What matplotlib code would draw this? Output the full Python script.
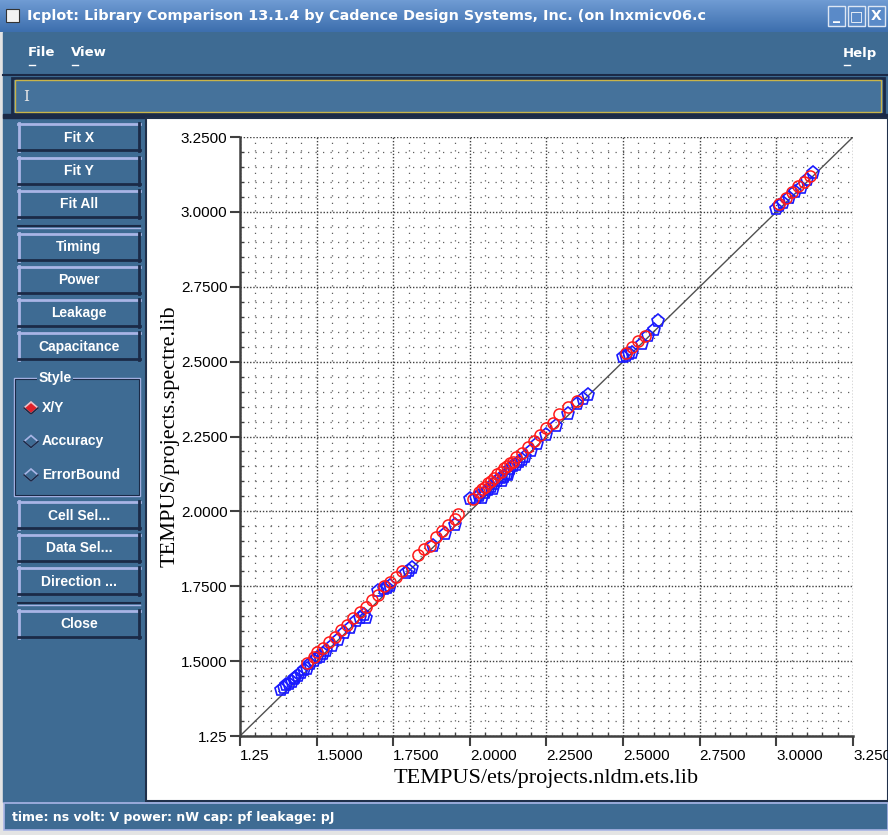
import numpy as np
import matplotlib
matplotlib.use('Agg')
import matplotlib.pyplot as plt
from matplotlib.patches import Rectangle, Polygon

# data (x = ets lib, y = spectre lib)
blue_x = [1.385, 1.395, 1.40, 1.41, 1.42, 1.425, 1.43, 1.44, 1.45, 1.46, 1.47, 1.48,
          1.49, 1.50, 1.51, 1.52, 1.53, 1.55, 1.57, 1.59, 1.61, 1.63, 1.64, 1.655,
          1.66, 1.70, 1.72, 1.73, 1.74, 1.79, 1.80, 1.81, 1.88, 1.92, 1.95, 2.00,
          2.02, 2.03, 2.04, 2.05, 2.06, 2.07, 2.075, 2.08, 2.09, 2.10, 2.105, 2.11,
          2.12, 2.125, 2.13, 2.14, 2.15, 2.16, 2.17, 2.18, 2.20, 2.22, 2.25, 2.28,
          2.32, 2.35, 2.37, 2.385, 2.50, 2.51, 2.52, 2.53, 2.56, 2.58, 2.60, 2.615,
          3.00, 3.01, 3.02, 3.04, 3.06, 3.08, 3.10, 3.12]
blue_y = [1.405, 1.41, 1.42, 1.425, 1.43, 1.44, 1.445, 1.45, 1.46, 1.47, 1.475, 1.49,
          1.50, 1.51, 1.515, 1.525, 1.535, 1.55, 1.57, 1.595, 1.61, 1.635, 1.645, 1.655,
          1.645, 1.735, 1.74, 1.745, 1.75, 1.795, 1.80, 1.81, 1.885, 1.925, 1.955, 2.04,
          2.045, 2.05, 2.045, 2.06, 2.07, 2.08, 2.075, 2.09, 2.10, 2.11, 2.10, 2.115,
          2.125, 2.12, 2.14, 2.15, 2.155, 2.165, 2.17, 2.18, 2.20, 2.225, 2.255, 2.285,
          2.325, 2.36, 2.375, 2.39, 2.515, 2.52, 2.525, 2.53, 2.56, 2.585, 2.605, 2.635,
          3.01, 3.02, 3.03, 3.045, 3.065, 3.08, 3.105, 3.13]

red_x = [1.47, 1.49, 1.50, 1.52, 1.54, 1.56, 1.58, 1.60, 1.62, 1.64, 1.66, 1.68,
         1.70, 1.72, 1.74, 1.76, 1.78, 1.83, 1.85, 1.87, 1.89, 1.91, 1.93, 1.95,
         1.96, 2.01, 2.03, 2.04, 2.05, 2.06, 2.07, 2.08, 2.09, 2.10, 2.11, 2.12,
         2.13, 2.14, 2.15, 2.17, 2.19, 2.21, 2.23, 2.25, 2.27, 2.29, 2.32, 2.35,
         2.51, 2.53, 2.55, 2.57, 3.01, 3.03, 3.05, 3.07, 3.09, 3.11]
red_y = [1.495, 1.515, 1.53, 1.545, 1.565, 1.58, 1.605, 1.62, 1.645, 1.665, 1.68, 1.705,
         1.72, 1.75, 1.765, 1.78, 1.80, 1.855, 1.875, 1.885, 1.915, 1.935, 1.955, 1.975,
         1.99, 2.04, 2.065, 2.075, 2.08, 2.095, 2.10, 2.11, 2.125, 2.13, 2.145, 2.15,
         2.16, 2.165, 2.18, 2.195, 2.215, 2.235, 2.255, 2.28, 2.295, 2.325, 2.35, 2.37,
         2.53, 2.55, 2.57, 2.585, 3.025, 3.045, 3.065, 3.085, 3.10, 3.12]

major_ticks = [1.25, 1.5, 1.75, 2.0, 2.25, 2.5, 2.75, 3.0, 3.25]
tick_labels = ['1.25', '1.5000', '1.7500', '2.0000', '2.2500', '2.5000',
               '2.7500', '3.0000', '3.2500']

buttons_top = ['Fit X', 'Fit Y', 'Fit All']
buttons_mid = ['Timing', 'Power', 'Leakage', 'Capacitance']
style_opts = ['X/Y', 'Accuracy', 'ErrorBound']
buttons_low = ['Cell Sel...', 'Data Sel...', 'Direction ...']

W, H = 888, 835
PANEL = '#3e6b93'
LIGHT = '#a9b5e6'
DARK = '#1b2a47'

fig = plt.figure(figsize=(W / 100, H / 100), dpi=100)

# background axes in pixel coordinates for the window chrome
bg = fig.add_axes([0, 0, 1, 1])
bg.set_xlim(0, W)
bg.set_ylim(H, 0)
bg.axis('off')

bg.add_patch(Rectangle((0, 0), W, H, color='#e4e4e4'))
bg.add_patch(Rectangle((3, 32), W - 3, 770, color=PANEL))

# title bar gradient
grad = np.linspace(0, 1, 32).reshape(-1, 1)
bg.imshow(grad, extent=(0, W, 32, 0), cmap=matplotlib.colors.LinearSegmentedColormap.from_list(
    'tb', ['#6f9bd3', '#3d6fae']), aspect='auto', zorder=1)
bg.add_patch(Rectangle((6, 9), 13, 13, facecolor='#f2f2f2', edgecolor='#333', lw=0.8, zorder=2))
bg.text(27, 16, 'Icplot: Library Comparison 13.1.4 by Cadence Design Systems, Inc. (on lnxmicv06.c',
        color='white', fontsize=10.4, fontweight='bold', va='center', ha='left',
        family='DejaVu Sans', zorder=3)
for i, sym in enumerate(['_', '□', 'X']):
    x0 = 828 + i * 20
    bg.add_patch(Rectangle((x0, 6), 17, 20, facecolor='#5a8ac8', edgecolor='#dde6f3', lw=1, zorder=2))
    bg.text(x0 + 8.5, 16, sym, color='white', fontsize=10, fontweight='bold',
            ha='center', va='center', zorder=3)

# menu bar
bg.plot([3, W], [75, 75], color=DARK, lw=1.5)
for x0, name in [(28, 'File'), (71, 'View'), (843, 'Help')]:
    bg.text(x0, 53, name, color='white', fontsize=9.5, fontweight='bold', va='center', ha='left')
    bg.plot([x0 + 1, x0 + 7], [65, 65], color='white', lw=1)

# entry field
bg.add_patch(Rectangle((12, 78), 872, 36, facecolor='#45729b', edgecolor=DARK, lw=2))
bg.add_patch(Rectangle((15, 80), 866, 32, facecolor='none', edgecolor='#c9b449', lw=1))
bg.text(26, 97, 'I', color='#e8e8e8', fontsize=11, va='center', ha='center', family='DejaVu Serif')
bg.add_patch(Rectangle((3, 114), W, 4, color=DARK))

# plot panel
bg.add_patch(Rectangle((146, 118), W - 146, 683, facecolor='white', edgecolor='#20304a', lw=1.5))


def button(y0, label, x0=18, x1=140, h=28):
    bg.add_patch(Rectangle((x0, y0), x1 - x0, h, facecolor=PANEL, edgecolor='none'))
    bg.plot([x0, x1], [y0 + 1, y0 + 1], color=LIGHT, lw=2)
    bg.plot([x0 + 1, x0 + 1], [y0, y0 + h], color=LIGHT, lw=2)
    bg.plot([x0, x1], [y0 + h - 1, y0 + h - 1], color=DARK, lw=2)
    bg.plot([x1 - 1, x1 - 1], [y0, y0 + h], color=DARK, lw=2)
    bg.text((x0 + x1) / 2, y0 + h / 2 + 0.5, label, color='white', fontsize=10,
            fontweight='bold', ha='center', va='center', family='Liberation Sans')


for i, lab in enumerate(buttons_top):
    button(123 + i * 33.5, lab)
bg.plot([18, 140], [226, 226], color=DARK, lw=1.5)
bg.plot([18, 140], [228, 228], color=LIGHT, lw=1)
for i, lab in enumerate(buttons_mid):
    button(233 + i * 33, lab)

# style group
bg.add_patch(Rectangle((14, 378), 126, 118, facecolor='none', edgecolor=LIGHT, lw=1))
bg.add_patch(Rectangle((15, 379), 124, 116, facecolor='none', edgecolor=DARK, lw=0.8))
bg.text(55, 378, 'Style', color='white', fontsize=10, fontweight='bold', ha='center',
        va='center', family='Liberation Sans',
        bbox=dict(facecolor=PANEL, edgecolor='none', pad=1))
for i, lab in enumerate(style_opts):
    yc = 408 + i * 33.5
    d = [(24, yc), (31, yc - 6), (38, yc), (31, yc + 6)]
    fc = '#e0202a' if i == 0 else PANEL
    bg.add_patch(Polygon(d, closed=True, facecolor=fc, edgecolor=LIGHT if i else '#f0c0c8', lw=1.2))
    bg.plot([24, 31, 38], [yc, yc + 6, yc], color=DARK, lw=1.2)
    bg.text(42, yc, lab, color='white', fontsize=10, fontweight='bold', ha='left',
            va='center', family='Liberation Sans')

for i, lab in enumerate(buttons_low):
    button(501 + i * 33, lab)
bg.plot([18, 140], [603, 603], color=DARK, lw=1.5)
bg.plot([18, 140], [605, 605], color=LIGHT, lw=1)
button(610, 'Close')

# status bar
bg.add_patch(Rectangle((4, 803), W - 4, 27, facecolor=PANEL, edgecolor=LIGHT, lw=1.2))
bg.text(12, 817, 'time: ns volt: V power: nW cap: pf leakage: pJ', color='white',
        fontsize=9, fontweight='bold', ha='left', va='center')

# the scatter plot
ax = fig.add_axes([240 / W, 1 - 736 / H, 613 / W, 599 / H])
ax.set_xlim(1.25, 3.25)
ax.set_ylim(1.25, 3.25)
ax.set_facecolor('white')

ax.plot([1.25, 3.25], [1.25, 3.25], color='#505050', lw=1, zorder=2)
ax.plot(blue_x, blue_y, linestyle='none', marker='p', markersize=9.5,
        markerfacecolor='none', markeredgecolor='#1a1aff', markeredgewidth=1.2, zorder=3)
ax.plot(red_x, red_y, linestyle='none', marker='o', markersize=8,
        markerfacecolor='none', markeredgecolor='#ff1a1a', markeredgewidth=1.1, zorder=4)

ax.set_xticks(major_ticks, labels=tick_labels)
ax.set_yticks(major_ticks, labels=tick_labels)
ax.set_xticks(np.arange(1.25, 3.2501, 0.05), minor=True)
ax.set_yticks(np.arange(1.25, 3.2501, 0.05), minor=True)
ax.grid(which='major', color='#404040', linestyle=(0, (1, 1.3)), lw=1.0)
ax.grid(which='minor', color='#606060', linestyle=(0, (1, 5)), lw=0.9)
ax.set_axisbelow(True)

ax.tick_params(which='major', direction='out', length=7, width=1.5, color='#404040',
               labelsize=11, pad=2)
ax.tick_params(which='minor', direction='in', length=3, width=1, color='#404040')
for lbl in ax.get_xticklabels():
    lbl.set_ha('left')
    lbl.set_family('Liberation Sans')
for lbl in ax.get_yticklabels():
    lbl.set_family('Liberation Sans')

for s in ['left', 'bottom']:
    ax.spines[s].set_linewidth(1.8)
    ax.spines[s].set_color('#404040')
for s in ['top', 'right']:
    ax.spines[s].set_visible(False)

ax.set_xlabel('TEMPUS/ets/projects.nldm.ets.lib', family='Liberation Serif', fontsize=16, labelpad=5)
ax.set_ylabel('TEMPUS/projects.spectre.lib', family='Liberation Serif', fontsize=16, labelpad=1)

fig.savefig('out.png', dpi=100)
